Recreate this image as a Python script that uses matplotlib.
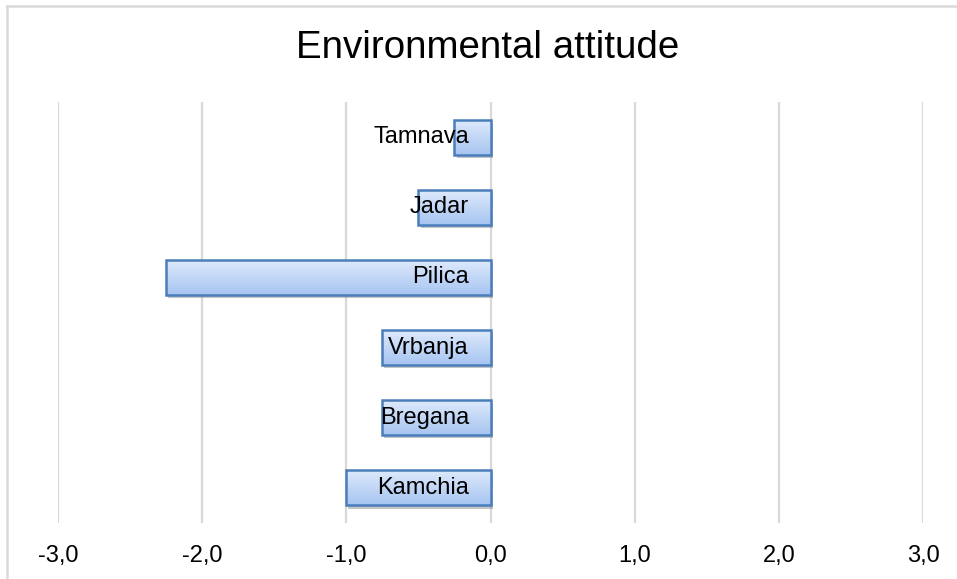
import matplotlib.pyplot as plt
import matplotlib.patheffects as pe
import numpy as np

# data (top to bottom as shown)
rivers = ["Tamnava", "Jadar", "Pilica", "Vrbanja", "Bregana", "Kamchia"]
scores = [-0.25, -0.5, -2.25, -0.75, -0.75, -1.0]
xticks = [-3, -2, -1, 0, 1, 2, 3]

plt.rcParams['font.family'] = ['Liberation Sans', 'DejaVu Sans']

fig = plt.figure(figsize=(9.57, 5.79), dpi=100)
ax = fig.add_axes([58 / 957, 56 / 579, 865 / 957, 421 / 579])

ypos = np.arange(len(rivers))[::-1]
grad = np.linspace(0, 1, 256).reshape(-1, 1)
cmap = plt.matplotlib.colors.LinearSegmentedColormap.from_list(
    "bl", ["#a6c4f1", "#e0ebfc"])

# shadowed base bars
base = ax.barh(ypos, scores, height=0.5, color="#c4d8f7", edgecolor="none", zorder=2)
for b in base:
    b.set_path_effects([pe.SimplePatchShadow(offset=(1.5, -2.2), shadow_rgbFace="#7f7f7f", alpha=0.45),
                        pe.Normal()])
    x0, y0 = b.get_x(), b.get_y()
    w, h = b.get_width(), b.get_height()
    im = ax.imshow(grad, cmap=cmap, aspect="auto", origin="lower",
                   extent=(x0, x0 + w, y0, y0 + h), zorder=2.5)
    im.set_clip_path(b)

ax.barh(ypos, scores, height=0.5, color="none", edgecolor="#4a7ebb", linewidth=1.8, zorder=3)

for y, name in zip(ypos, rivers):
    ax.text(-0.15, y, name, ha="right", va="center", fontsize=17, color="black", zorder=4)

ax.set_xlim(-3, 3)
ax.set_ylim(-0.5, 5.5)
ax.set_xticks(xticks)
ax.set_xticklabels([f"{t:.1f}".replace(".", ",") for t in xticks], fontsize=17)
ax.set_yticks([])
ax.tick_params(axis="x", length=0, pad=16)
ax.grid(axis="x", color="#d9d9d9", linewidth=1.6, zorder=0)
ax.set_axisbelow(True)
for s in ax.spines.values():
    s.set_visible(False)

fig.text(488 / 957, 1 - 48 / 579, "Environmental attitude", ha="center", va="center", fontsize=27.7)

# outer chart frame (cut at right/bottom)
fig.add_artist(plt.Line2D([7 / 957, 7 / 957], [0, 1 - 6 / 579], color="#d9d9d9", lw=1.8))
fig.add_artist(plt.Line2D([7 / 957, 1], [1 - 6 / 579, 1 - 6 / 579], color="#d9d9d9", lw=1.8))

fig.savefig("out.png", dpi=100)
